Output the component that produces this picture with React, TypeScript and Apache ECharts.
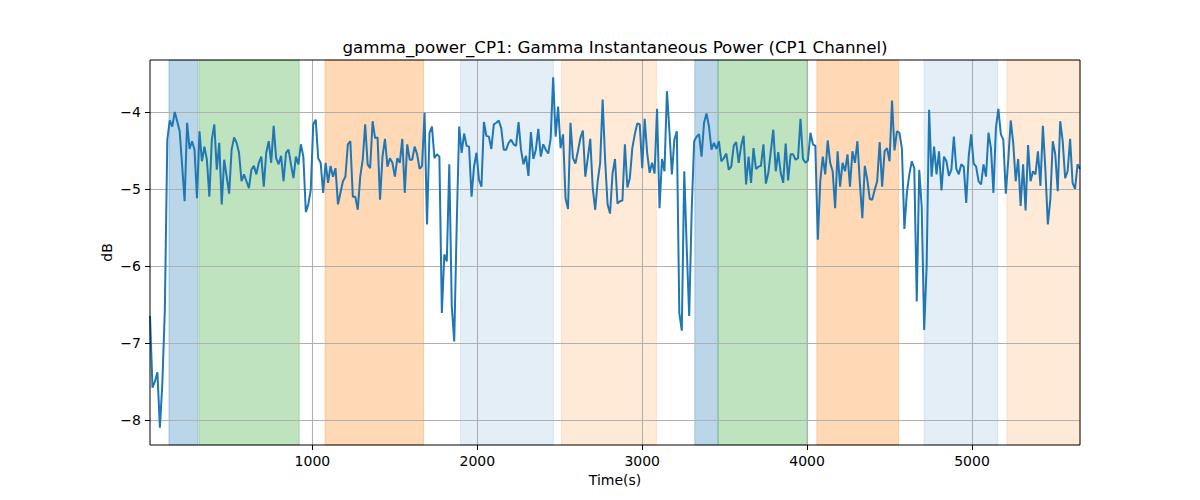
import { useEffect, useRef } from "react";
import * as echarts from "echarts";

// gamma power samples (dB), one every 15 s
const SAMPLE_STEP = 15;
const gammaPower = [
  -6.65, -7.58, -7.5, -7.38, -8.1, -7.52, -6.57, -4.36, -4.11, -4.19,
  -4.0, -4.12, -4.25, -4.7, -5.16, -4.14, -4.48, -4.38, -4.49, -5.12,
  -4.25, -4.64, -4.45, -4.62, -5.1, -4.36, -4.16, -4.75, -4.4, -5.2,
  -4.62, -4.84, -5.06, -4.49, -4.33, -4.4, -4.53, -4.9, -4.81, -4.9,
  -4.99, -4.75, -4.7, -4.81, -4.66, -4.58, -4.97, -4.53, -4.38, -4.66,
  -4.18, -4.6, -4.68, -4.57, -4.9, -4.53, -4.49, -4.68, -4.86, -4.58,
  -4.68, -4.42, -4.58, -5.3, -5.2, -5.01, -4.16, -4.1, -4.6, -4.66,
  -5.05, -4.66, -4.92, -4.7, -4.84, -4.73, -5.2, -5.05, -4.9, -4.84,
  -4.42, -4.38, -5.1, -5.1, -5.27, -4.84, -4.62, -4.16, -4.68, -4.73,
  -4.12, -4.34, -4.33, -5.14, -4.58, -4.35, -4.71, -4.6, -4.66, -4.84,
  -4.6, -4.66, -4.35, -5.05, -4.42, -4.62, -4.62, -4.45, -4.55, -4.74,
  -4.7, -4.01, -5.46, -4.27, -4.19, -4.6, -4.55, -4.58, -6.61, -5.85,
  -5.94, -4.68, -6.52, -6.98, -5.48, -4.19, -4.53, -4.28, -4.44, -4.45,
  -5.1, -4.71, -4.53, -4.88, -4.97, -4.13, -4.31, -4.32, -4.48, -4.16,
  -4.14, -4.11, -4.21, -4.49, -4.49, -4.4, -4.36, -4.42, -4.44, -4.13,
  -4.49, -4.68, -4.57, -4.83, -4.26, -4.61, -4.49, -4.22, -4.58, -4.42,
  -4.49, -4.54, -4.34, -3.55, -4.32, -3.93, -4.47, -4.29, -5.12, -5.26,
  -4.14, -4.6, -4.67, -4.51, -4.34, -4.24, -4.84, -4.6, -4.35, -4.99,
  -5.27, -4.9, -4.66, -3.84, -4.62, -5.2, -5.32, -4.8, -4.61, -5.19,
  -5.16, -5.15, -4.42, -4.98, -4.86, -4.47, -4.29, -4.15, -4.16, -4.73,
  -4.09, -4.53, -4.79, -4.66, -4.8, -3.96, -5.25, -4.61, -4.77, -3.73,
  -4.25, -4.81, -4.36, -4.25, -6.61, -6.84, -4.77, -5.77, -6.65, -5.29,
  -4.38, -4.32, -4.29, -4.58, -4.14, -4.02, -4.19, -4.49, -4.4, -4.48,
  -4.38, -4.64, -4.6, -4.54, -4.75, -4.71, -4.44, -4.39, -4.66, -4.44,
  -4.31, -4.94, -4.58, -4.92, -4.47, -4.74, -4.71, -4.7, -4.42, -4.93,
  -4.79, -4.51, -4.23, -4.77, -4.52, -4.79, -4.92, -4.41, -4.89, -4.55,
  -4.55, -4.62, -4.6, -4.09, -4.61, -4.66, -4.63, -4.27, -4.42, -4.44,
  -5.66, -4.9, -4.58, -4.81, -4.37, -4.66, -4.77, -5.25, -4.51, -4.97,
  -4.66, -4.77, -4.55, -4.97, -4.51, -4.66, -4.38, -4.92, -5.38, -4.7,
  -4.88, -5.13, -5.14, -5.01, -4.9, -4.39, -4.97, -4.51, -4.47, -4.64,
  -3.85, -4.5, -4.25, -4.27, -4.48, -5.52, -5.05, -4.81, -4.64, -4.73,
  -6.46, -4.75, -5.23, -6.83, -6.0, -3.97, -4.84, -4.45, -4.81, -4.51,
  -5.02, -4.58, -4.64, -4.83, -4.75, -4.32, -4.74, -4.81, -4.68, -4.71,
  -5.18, -4.58, -4.29, -4.67, -4.71, -4.9, -4.94, -4.68, -4.84, -4.27,
  -4.47, -5.05, -4.21, -3.96, -4.29, -4.36, -5.06, -4.62, -4.11, -4.4,
  -4.9, -4.61, -5.22, -4.68, -5.28, -4.43, -4.9, -4.77, -4.81, -4.51,
  -4.96, -4.18, -4.75, -5.46, -5.14, -4.38, -4.55, -5.03, -4.12, -4.38,
  -4.86, -4.77, -4.35, -4.92, -5.0, -4.68, -4.74,
];

// shaded epochs: [start, end] in seconds
const bandStarts = [130, 312, 1077, 1898, 2511, 3319, 3460, 4059, 4709, 5212];
const bandEnds = [305, 920, 1674, 2461, 3086, 3460, 4000, 4555, 5156, 5655];
const bandColors = [
  "rgba(31,119,180,0.3)",
  "rgba(44,160,44,0.3)",
  "rgba(255,127,14,0.3)",
  "rgba(31,119,180,0.12)",
  "rgba(255,127,14,0.16)",
  "rgba(31,119,180,0.3)",
  "rgba(44,160,44,0.3)",
  "rgba(255,127,14,0.3)",
  "rgba(31,119,180,0.12)",
  "rgba(255,127,14,0.16)",
];

const xTicks = [1000, 2000, 3000, 4000, 5000];
const yTicks = [-8, -7, -6, -5, -4];

const X_MIN = 15;
const X_MAX = 5655;
const Y_MIN = -8.325;
const Y_MAX = -3.325;

const FONT = "DejaVu Sans";

export default function App() {
  const chartRef = useRef<HTMLDivElement>(null);

  useEffect(() => {
    if (!chartRef.current) return;
    const chart = echarts.init(chartRef.current, null, { renderer: "svg" });

    const lineData = gammaPower.map((v, i) => [SAMPLE_STEP * (i + 1), v]);
    const areas = bandStarts.map((s, i) => [
      {
        xAxis: s,
        itemStyle: { color: bandColors[i], borderColor: bandColors[i], borderWidth: 1 },
      },
      { xAxis: bandEnds[i] },
    ]);

    const axisText = { color: "#000", fontFamily: FONT, fontSize: 14 };

    chart.setOption({
      animation: false,
      backgroundColor: "#fff",
      title: {
        text: "gamma_power_CP1: Gamma Instantaneous Power (CP1 Channel)",
        left: 610,
        textAlign: "center",
        top: 33,
        textStyle: { color: "#000", fontFamily: FONT, fontSize: 16.7, fontWeight: "normal" },
      },
      grid: {
        left: 150,
        right: 120,
        top: 60,
        bottom: 55,
        show: true,
        z: 4,
        backgroundColor: "transparent",
        borderColor: "#000",
        borderWidth: 1,
      },
      xAxis: {
        type: "value",
        min: X_MIN,
        max: X_MAX,
        z: 2,
        name: "Time(s)",
        nameLocation: "middle",
        nameGap: 28,
        nameTextStyle: axisText,
        axisLine: { show: false },
        axisTick: { show: true, length: 5, customValues: xTicks, lineStyle: { color: "#000" } },
        axisLabel: {
          ...axisText,
          margin: 9,
          customValues: xTicks,
          formatter: (v: number) => String(v),
        },
        splitLine: { show: true, lineStyle: { color: "#b0b0b0", width: 1.1 } },
      },
      yAxis: {
        type: "value",
        min: Y_MIN,
        max: Y_MAX,
        z: 2,
        name: "dB",
        nameLocation: "middle",
        nameGap: 36,
        nameMoveOverlap: false,
        nameTextStyle: axisText,
        axisLine: { show: false },
        axisTick: { show: true, length: 5, customValues: yTicks, lineStyle: { color: "#000" } },
        axisLabel: {
          ...axisText,
          margin: 9,
          customValues: yTicks,
          formatter: (v: number) => String(v).replace("-", "\u2212"),
        },
        splitLine: { show: true, lineStyle: { color: "#b0b0b0", width: 1.1 } },
      },
      series: [
        {
          type: "line",
          z: 1,
          data: [],
          silent: true,
          markArea: { silent: true, data: areas },
        },
        {
          type: "line",
          z: 3,
          data: lineData,
          showSymbol: false,
          lineStyle: { color: "#1f77b4", width: 2 },
          itemStyle: { color: "#1f77b4" },
        },
      ],
    });

    return () => chart.dispose();
  }, []);

  return (
    <div
      ref={chartRef}
      style={{ position: "fixed", left: 0, top: 0, width: 1200, height: 500 }}
    />
  );
}
